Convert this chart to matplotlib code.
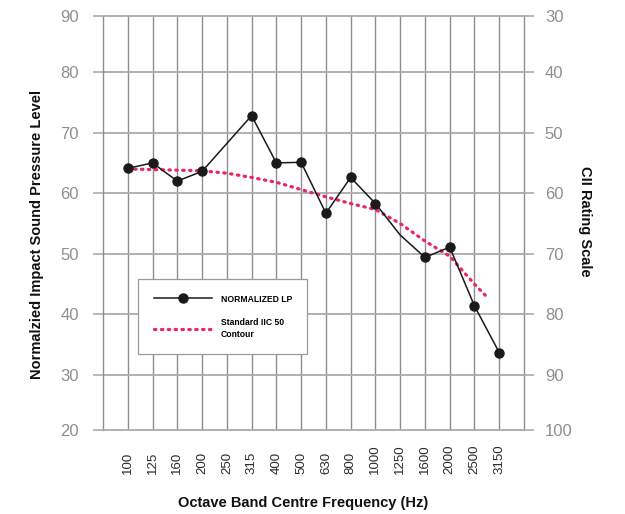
import numpy as np
import matplotlib
matplotlib.use("Agg")
import matplotlib.pyplot as plt

# ---------------- data ----------------
freq_labels = ["100", "125", "160", "200", "250", "315", "400", "500", "630",
               "800", "1000", "1250", "1600", "2000", "2500", "3150"]

lp_freqs = ["100", "125", "160", "200", "315", "400", "500", "630", "800",
            "1000", "1250", "1600", "2000", "2500", "3150"]
lp_values = [64.1, 65.0, 62.0, 63.6, 72.8, 65.0, 65.1, 56.7, 62.6,
             58.3, 53.1, 49.4, 51.1, 41.4, 33.7]
lp_no_marker = ["1250"]

# IIC 50 contour, category positions (index in freq_labels) and levels
contour_pos = [0, 1, 2, 3, 4, 5, 6, 7, 8, 9, 10, 11, 12, 13, 14, 14.57]
contour_values = [64.0, 63.9, 63.8, 63.7, 63.3, 62.6, 61.8, 60.6, 59.4,
                  58.3, 57.3, 55.0, 52.1, 49.6, 45.0, 42.6]

left_ticks = [20, 30, 40, 50, 60, 70, 80, 90]
right_tick_labels = ["100", "90", "80", "70", "60", "50", "40", "30"]

series_names = ["NORMALIZED LP", "Standard IIC 50\nContour"]
xlabel = "Octave Band Centre Frequency (Hz)"
ylabel_left = "Normalzied Impact Sound Pressure Level"
ylabel_right = "CII Rating Scale"

# ---------------- style ----------------
plt.rcParams["font.family"] = ["Liberation Sans", "DejaVu Sans"]

VGRID = "#8e8e8e"
HGRID = "#ababab"
TICKLAB = "#8f8f8f"
RED = "#e8275d"
BLACK = "#1a1a1a"

# the original scale has slightly shorter 20-30 and 80-90 bands
_v = [20, 30, 80, 90]
_p = [0.0, 55.0, 358.0, 414.0]
def fwd(v):
    return np.interp(v, _v, _p)
def inv(p):
    return np.interp(p, _p, _v)

fig = plt.figure(figsize=(6.25, 5.14), dpi=100)
ax = fig.add_axes([103 / 625, 84 / 514, 421 / 625, 414 / 514])

ax.set_yscale("function", functions=(fwd, inv))
ax.set_ylim(20, 90)
ax.set_xlim(-1, 16)

x_idx = np.arange(len(freq_labels))
ax.set_xticks(x_idx)
ax.set_xticklabels(freq_labels, rotation=90, va="bottom", ha="center",
                   fontsize=9.5, color="#2a2a2a")
ax.tick_params(axis="x", length=0, pad=31.5)

ax.set_yticks(left_ticks)
ax.set_yticklabels([str(t) for t in left_ticks])
ax.tick_params(axis="y", length=7.5, width=1.2, color=HGRID, pad=10,
               labelsize=12, labelcolor=TICKLAB)

for xv in x_idx:
    ax.axvline(xv, color=VGRID, lw=1.0, zorder=1)
for yv in left_ticks[1:-1]:
    ax.axhline(yv, color=HGRID, lw=1.3, zorder=1)

for s in ["left", "right"]:
    ax.spines[s].set_color(VGRID)
    ax.spines[s].set_linewidth(1.0)
for s in ["top", "bottom"]:
    ax.spines[s].set_color(HGRID)
    ax.spines[s].set_linewidth(1.3)

# data
lp_x = [freq_labels.index(f) for f in lp_freqs]
mark_idx = [i for i, f in enumerate(lp_freqs) if f not in lp_no_marker]
ax.plot(lp_x, lp_values, color=BLACK, lw=1.1, marker="o", markersize=6.5,
        markevery=mark_idx, zorder=4, label=series_names[0])
ax.plot(contour_pos, contour_values, color=RED, lw=2.3,
        linestyle=(0, (0.45, 1.7)), dash_capstyle="round", zorder=3,
        label=series_names[1])

leg = ax.legend(loc="upper left", bbox_to_anchor=(35 / 421, 151 / 414),
                borderaxespad=0, frameon=True, fancybox=False,
                edgecolor="#9a9a9a", facecolor="white", framealpha=1,
                prop={"weight": "bold", "size": 6.2},
                handlelength=6.8, handletextpad=1.0, borderpad=1.8,
                labelspacing=1.7)
leg.get_frame().set_linewidth(0.9)
for t in leg.get_texts():
    t.set_linespacing(1.35)

# right axis
ax2 = ax.twinx()
ax2.set_yscale("function", functions=(fwd, inv))
ax2.set_ylim(20, 90)
ax2.set_yticks(left_ticks)
ax2.set_yticklabels(right_tick_labels)
ax2.tick_params(axis="y", length=7, width=1.2, color=HGRID, pad=8,
                labelsize=12, labelcolor=TICKLAB)
for s in ax2.spines.values():
    s.set_visible(False)

# axis titles
fig.text(303 / 625, 1 - 503 / 514, xlabel, ha="center", va="center",
         fontsize=10.5, fontweight="bold", color="#111111")
fig.text(37 / 625, 1 - 235 / 514, ylabel_left, ha="center", va="center",
         rotation=90, fontsize=10.5, fontweight="bold", color="#111111")
fig.text(585 / 625, 1 - 221 / 514, ylabel_right, ha="center", va="center",
         rotation=270, fontsize=10.5, fontweight="bold", color="#111111")

fig.savefig("out.png", dpi=100)
